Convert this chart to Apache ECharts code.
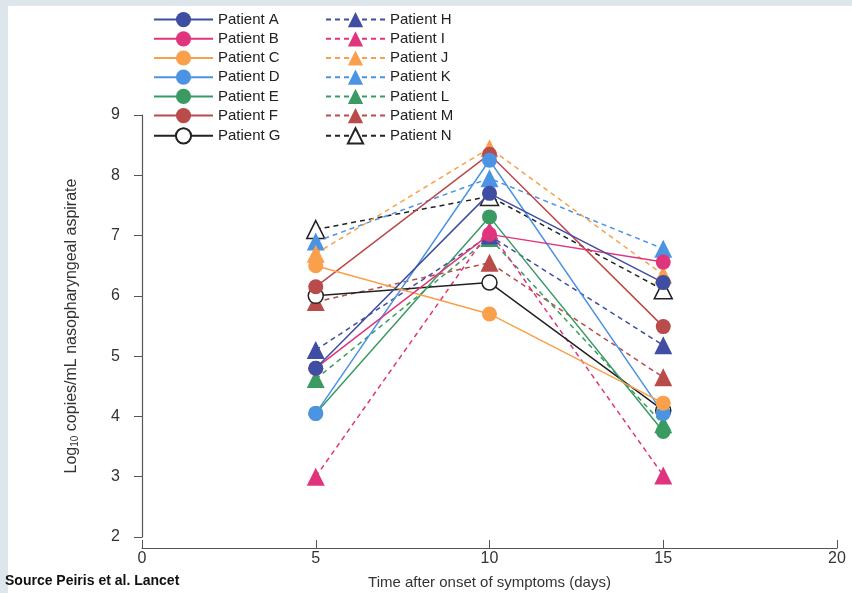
<!DOCTYPE html>
<html><head><meta charset="utf-8">
<script src="https://cdn.jsdelivr.net/npm/echarts@6/dist/echarts.min.js"></script>
<style>html,body{margin:0;padding:0;background:#fff}#c{width:852px;height:593px}</style>
</head><body><div id="c"></div>
<script>
const days = [5, 10, 15];
const xTicks = [0, 5, 10, 15, 20];
const yTicks = [2, 3, 4, 5, 6, 7, 8, 9];
const patients = ['Patient A','Patient B','Patient C','Patient D','Patient E','Patient F','Patient G',
                  'Patient H','Patient I','Patient J','Patient K','Patient L','Patient M','Patient N'];
const valA = [4.8, 7.7, 6.22];
const valB = [4.8, 7.02, 6.56];
const valC = [6.5, 5.7, 4.22];
const valD = [4.05, 8.25, 4.05];
const valE = [4.05, 7.31, 3.75];
const valF = [6.15, 8.35, 5.49];
const valG = [6.0, 6.22, 4.1];
const valH = [5.1, 7.0, 5.18];
const valI = [3.0, 7.08, 3.02];
const valJ = [6.7, 8.45, 6.35];
const valK = [6.9, 7.95, 6.78];
const valL = [4.62, 6.96, 3.87];
const valM = [5.9, 6.55, 4.65];
const valN = [7.1, 7.65, 6.1];
const values = [valA,valB,valC,valD,valE,valF,valG,valH,valI,valJ,valK,valL,valM,valN];
const colors = ['#3f4ea3','#e0357c','#f9a04c','#4b93e3','#3a9b62','#b94b4b','#222222',
                '#3f4ea3','#e0357c','#f9a04c','#4b93e3','#3a9b62','#b94b4b','#222222'];

const series = patients.map((name, i) => {
  const open = (i === 6 || i === 13);
  const tri = i >= 7;
  return {
    name: name,
    type: 'line',
    data: days.map((d, k) => [d, values[i][k]]),
    symbol: tri ? 'triangle' : 'circle',
    symbolSize: tri ? 18 : 15,
    showAllSymbol: true,
    lineStyle: { color: colors[i], width: 1.5, type: tri ? [5, 4] : 'solid' },
    itemStyle: open ? { color: '#ffffff', borderColor: '#222', borderWidth: 1.5 }
                    : { color: colors[i], borderWidth: 0 },
    z: 2 + (14 - i),
    animation: false
  };
});

const chart = echarts.init(document.getElementById('c'));
const legendCommon = {
  orient: 'vertical', itemWidth: 59, itemHeight: 19, itemGap: 4, padding: 0,
  textStyle: { fontSize: 15, color: '#222', fontFamily: 'Liberation Sans, Arial' },
  selectedMode: false
};
chart.setOption({
  backgroundColor: '#ffffff',
  animation: false,
  graphic: [
    { type: 'rect', shape: { x: 0, y: 0, width: 852, height: 6 }, style: { fill: '#dde6ea' }, silent: true, z: -10 },
    { type: 'rect', shape: { x: 0, y: 0, width: 8, height: 593 }, style: { fill: '#dde6ea' }, silent: true, z: -10 },
    { type: 'text', left: 5, top: 574, style: { text: 'Source Peiris et al. Lancet', font: 'bold 14px Liberation Sans, Arial', fill: '#111' } }
  ],
  legend: [
    Object.assign({ left: 153, top: 12, data: patients.slice(0, 7) }, legendCommon),
    Object.assign({ left: 325, top: 12, data: patients.slice(7) }, legendCommon)
  ],
  grid: { left: 142, right: 15, top: 115, bottom: 56, containLabel: false, outerBoundsMode: 'none' },
  xAxis: {
    type: 'value', min: 0, max: 20, interval: 5, offset: 11,
    name: 'Time after onset of symptoms (days)', nameLocation: 'middle', nameGap: 27,
    nameTextStyle: { fontSize: 15, color: '#333', fontFamily: 'Liberation Sans, Arial' },
    axisLine: { show: true, lineStyle: { color: '#555', width: 1.2 } },
    axisTick: { show: true, inside: true, length: 8, lineStyle: { color: '#555' } },
    axisLabel: { fontSize: 16, color: '#333', margin: 3, fontFamily: 'Liberation Sans, Arial',
                 customValues: xTicks },
    splitLine: { show: false }
  },
  yAxis: {
    type: 'value', min: 2, max: 9, interval: 1, offset: 18,
    name: 'Log{sub|10} copies/mL nasopharyngeal aspirate', nameLocation: 'middle', nameGap: 44,
    nameRotate: 90,
    nameTextStyle: { fontSize: 16, color: '#333', fontFamily: 'Liberation Sans, Arial',
                     rich: { sub: { fontSize: 10, verticalAlign: 'bottom', padding: [6, 0, 0, 0], color: '#333' } } },
    axisLine: { show: true, lineStyle: { color: '#555', width: 1.2 } },
    axisTick: { show: true, inside: false, length: 8, lineStyle: { color: '#555' } },
    axisLabel: { fontSize: 16, color: '#333', margin: 4, fontFamily: 'Liberation Sans, Arial',
                 customValues: yTicks },
    splitLine: { show: false }
  },
  series: series
});
</script></body></html>
